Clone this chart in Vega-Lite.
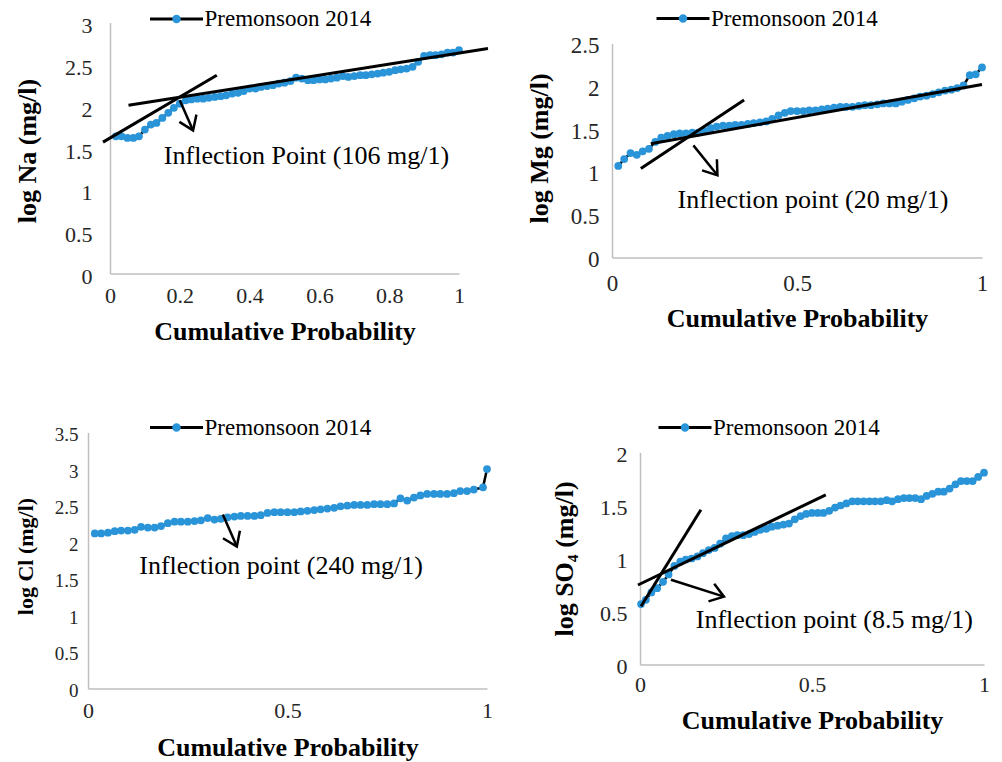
{
  "$schema": "https://vega.github.io/schema/vega-lite/v6.json",
  "background": "white",
  "padding": {"left": 14, "top": 6.5, "right": 5, "bottom": 0},
  "config": {
    "view": {"stroke": null},
    "font": "Liberation Serif",
    "axis": {"domainColor": "#bfbfbf", "domainWidth": 1.5, "ticks": false, "tickSize": 0, "grid": false, "labelFont": "Liberation Serif", "labelColor": "#262626", "labelFlush": false, "labelOverlap": false, "titleFont": "Liberation Serif", "titleFontWeight": "bold", "titleColor": "#000000", "titleFontSize": 26, "format": "~g"},
    "legend": {"labelFont": "Liberation Serif", "labelColor": "#000000", "labelFontSize": 23, "padding": 0, "labelOffset": 0, "labelLimit": 0, "clipHeight": 23}
  },
  "datasets": {
    "na": [{"p":0.017,"v":1.64},{"p":0.033,"v":1.64},{"p":0.05,"v":1.62},{"p":0.067,"v":1.62},{"p":0.083,"v":1.64},{"p":0.1,"v":1.72},{"p":0.117,"v":1.78},{"p":0.133,"v":1.80},{"p":0.15,"v":1.86},{"p":0.167,"v":1.92},{"p":0.183,"v":1.98},{"p":0.2,"v":2.03},{"p":0.217,"v":2.07},{"p":0.233,"v":2.08},{"p":0.25,"v":2.09},{"p":0.267,"v":2.09},{"p":0.283,"v":2.10},{"p":0.3,"v":2.11},{"p":0.317,"v":2.12},{"p":0.333,"v":2.13},{"p":0.35,"v":2.15},{"p":0.367,"v":2.16},{"p":0.383,"v":2.18},{"p":0.4,"v":2.21},{"p":0.417,"v":2.21},{"p":0.433,"v":2.23},{"p":0.45,"v":2.24},{"p":0.467,"v":2.25},{"p":0.483,"v":2.27},{"p":0.5,"v":2.28},{"p":0.517,"v":2.30},{"p":0.533,"v":2.34},{"p":0.55,"v":2.33},{"p":0.567,"v":2.31},{"p":0.583,"v":2.31},{"p":0.6,"v":2.32},{"p":0.617,"v":2.32},{"p":0.633,"v":2.33},{"p":0.65,"v":2.34},{"p":0.667,"v":2.36},{"p":0.683,"v":2.35},{"p":0.7,"v":2.36},{"p":0.717,"v":2.37},{"p":0.733,"v":2.37},{"p":0.75,"v":2.38},{"p":0.767,"v":2.39},{"p":0.783,"v":2.40},{"p":0.8,"v":2.41},{"p":0.817,"v":2.43},{"p":0.833,"v":2.44},{"p":0.85,"v":2.45},{"p":0.867,"v":2.47},{"p":0.883,"v":2.53},{"p":0.9,"v":2.60},{"p":0.917,"v":2.61},{"p":0.933,"v":2.61},{"p":0.95,"v":2.62},{"p":0.967,"v":2.64},{"p":0.983,"v":2.64},{"p":1,"v":2.67}],
    "na_fit": [{"seg":"A","p":-0.02,"v":1.57},{"seg":"A","p":0.306,"v":2.37},{"seg":"B","p":0.053,"v":2.01},{"seg":"B","p":1.083,"v":2.69}],
    "na_arrow": [{"p":0.2,"v":2.07,"tip":false},{"p":0.238,"v":1.71,"tip":true}],
    "na_note": [{"p":0.563,"v":1.40,"label":"Inflection Point (106 mg/1)"}],
    "mg": [{"p":0.017,"v":1.07},{"p":0.033,"v":1.15},{"p":0.05,"v":1.22},{"p":0.067,"v":1.20},{"p":0.083,"v":1.24},{"p":0.1,"v":1.27},{"p":0.117,"v":1.35},{"p":0.133,"v":1.40},{"p":0.15,"v":1.42},{"p":0.167,"v":1.44},{"p":0.183,"v":1.45},{"p":0.2,"v":1.45},{"p":0.217,"v":1.46},{"p":0.233,"v":1.46},{"p":0.25,"v":1.48},{"p":0.267,"v":1.51},{"p":0.283,"v":1.53},{"p":0.3,"v":1.54},{"p":0.317,"v":1.54},{"p":0.333,"v":1.55},{"p":0.35,"v":1.55},{"p":0.367,"v":1.56},{"p":0.383,"v":1.57},{"p":0.4,"v":1.58},{"p":0.417,"v":1.59},{"p":0.433,"v":1.62},{"p":0.45,"v":1.66},{"p":0.467,"v":1.69},{"p":0.483,"v":1.71},{"p":0.5,"v":1.71},{"p":0.517,"v":1.71},{"p":0.533,"v":1.72},{"p":0.55,"v":1.72},{"p":0.567,"v":1.73},{"p":0.583,"v":1.74},{"p":0.6,"v":1.75},{"p":0.617,"v":1.76},{"p":0.633,"v":1.76},{"p":0.65,"v":1.76},{"p":0.667,"v":1.77},{"p":0.683,"v":1.78},{"p":0.7,"v":1.78},{"p":0.717,"v":1.79},{"p":0.733,"v":1.80},{"p":0.75,"v":1.80},{"p":0.767,"v":1.80},{"p":0.783,"v":1.82},{"p":0.8,"v":1.84},{"p":0.817,"v":1.86},{"p":0.833,"v":1.88},{"p":0.85,"v":1.89},{"p":0.867,"v":1.91},{"p":0.883,"v":1.93},{"p":0.9,"v":1.95},{"p":0.917,"v":1.96},{"p":0.933,"v":1.98},{"p":0.95,"v":2.01},{"p":0.967,"v":2.13},{"p":0.983,"v":2.14},{"p":1,"v":2.22}],
    "mg_fit": [{"seg":"A","p":0.078,"v":1.04},{"seg":"A","p":0.357,"v":1.84},{"seg":"B","p":0.105,"v":1.33},{"seg":"B","p":1.0,"v":2.02}],
    "mg_arrow": [{"p":0.22,"v":1.31,"tip":false},{"p":0.285,"v":0.96,"tip":true}],
    "mg_note": [{"p":0.543,"v":0.67,"label":"Inflection point (20 mg/1)"}],
    "cl": [{"p":0.017,"v":2.12},{"p":0.033,"v":2.12},{"p":0.05,"v":2.13},{"p":0.067,"v":2.15},{"p":0.083,"v":2.16},{"p":0.1,"v":2.16},{"p":0.117,"v":2.17},{"p":0.133,"v":2.21},{"p":0.15,"v":2.20},{"p":0.167,"v":2.20},{"p":0.183,"v":2.22},{"p":0.2,"v":2.26},{"p":0.217,"v":2.28},{"p":0.233,"v":2.28},{"p":0.25,"v":2.28},{"p":0.267,"v":2.29},{"p":0.283,"v":2.30},{"p":0.3,"v":2.33},{"p":0.317,"v":2.31},{"p":0.333,"v":2.32},{"p":0.35,"v":2.34},{"p":0.367,"v":2.35},{"p":0.383,"v":2.36},{"p":0.4,"v":2.36},{"p":0.417,"v":2.36},{"p":0.433,"v":2.37},{"p":0.45,"v":2.40},{"p":0.467,"v":2.41},{"p":0.483,"v":2.41},{"p":0.5,"v":2.41},{"p":0.517,"v":2.41},{"p":0.533,"v":2.42},{"p":0.55,"v":2.43},{"p":0.567,"v":2.44},{"p":0.583,"v":2.45},{"p":0.6,"v":2.46},{"p":0.617,"v":2.47},{"p":0.633,"v":2.49},{"p":0.65,"v":2.50},{"p":0.667,"v":2.51},{"p":0.683,"v":2.51},{"p":0.7,"v":2.51},{"p":0.717,"v":2.52},{"p":0.733,"v":2.52},{"p":0.75,"v":2.52},{"p":0.767,"v":2.53},{"p":0.783,"v":2.60},{"p":0.8,"v":2.57},{"p":0.817,"v":2.61},{"p":0.833,"v":2.64},{"p":0.85,"v":2.66},{"p":0.867,"v":2.66},{"p":0.883,"v":2.66},{"p":0.9,"v":2.66},{"p":0.917,"v":2.67},{"p":0.933,"v":2.70},{"p":0.95,"v":2.70},{"p":0.967,"v":2.72},{"p":0.99,"v":2.75},{"p":1,"v":3.00}],
    "cl_arrow": [{"p":0.338,"v":2.38,"tip":false},{"p":0.373,"v":1.94,"tip":true}],
    "cl_note": [{"p":0.484,"v":1.67,"label":"Inflection point (240 mg/1)"}],
    "so4": [{"p":0.003,"v":0.57},{"p":0.017,"v":0.61},{"p":0.033,"v":0.68},{"p":0.05,"v":0.72},{"p":0.067,"v":0.78},{"p":0.083,"v":0.85},{"p":0.1,"v":0.93},{"p":0.117,"v":0.97},{"p":0.133,"v":0.99},{"p":0.15,"v":1.00},{"p":0.167,"v":1.02},{"p":0.183,"v":1.05},{"p":0.2,"v":1.08},{"p":0.217,"v":1.10},{"p":0.233,"v":1.14},{"p":0.25,"v":1.19},{"p":0.267,"v":1.21},{"p":0.283,"v":1.22},{"p":0.3,"v":1.22},{"p":0.317,"v":1.23},{"p":0.333,"v":1.25},{"p":0.35,"v":1.27},{"p":0.367,"v":1.28},{"p":0.383,"v":1.30},{"p":0.4,"v":1.31},{"p":0.417,"v":1.32},{"p":0.433,"v":1.33},{"p":0.45,"v":1.37},{"p":0.467,"v":1.40},{"p":0.483,"v":1.42},{"p":0.5,"v":1.43},{"p":0.517,"v":1.43},{"p":0.533,"v":1.43},{"p":0.55,"v":1.45},{"p":0.567,"v":1.48},{"p":0.583,"v":1.50},{"p":0.6,"v":1.52},{"p":0.617,"v":1.54},{"p":0.633,"v":1.54},{"p":0.65,"v":1.54},{"p":0.667,"v":1.54},{"p":0.683,"v":1.54},{"p":0.7,"v":1.54},{"p":0.717,"v":1.55},{"p":0.733,"v":1.54},{"p":0.75,"v":1.56},{"p":0.767,"v":1.57},{"p":0.783,"v":1.57},{"p":0.8,"v":1.57},{"p":0.817,"v":1.56},{"p":0.833,"v":1.59},{"p":0.85,"v":1.61},{"p":0.867,"v":1.63},{"p":0.883,"v":1.63},{"p":0.9,"v":1.66},{"p":0.917,"v":1.70},{"p":0.933,"v":1.73},{"p":0.95,"v":1.73},{"p":0.967,"v":1.73},{"p":0.983,"v":1.77},{"p":1,"v":1.81}],
    "so4_fit": [{"seg":"A","p":0.003,"v":0.55},{"seg":"A","p":0.177,"v":1.46},{"seg":"B","p":-0.006,"v":0.75},{"seg":"B","p":0.54,"v":1.60}],
    "so4_arrow": [{"p":0.09,"v":0.80,"tip":false},{"p":0.244,"v":0.64,"tip":true}],
    "so4_note": [{"p":0.565,"v":0.42,"label":"Inflection point (8.5 mg/1)"}]
  },
  "resolve": {"scale": {"stroke": "independent", "fill": "independent"}, "legend": {"stroke": "independent", "fill": "independent"}},
  "spacing": 71,
  "vconcat": [
    {
      "columns": 2, "align": "none", "spacing": 32,
      "resolve": {"scale": {"stroke": "independent", "fill": "independent"}, "legend": {"stroke": "independent", "fill": "independent"}},
      "concat": [
        {
          "width": 371, "height": 251,
          "encoding": {
            "x": {"field": "p", "type": "quantitative", "title": "Cumulative Probability", "scale": {"domain": [0, 1], "nice": false, "zero": false, "range": [22, 371]},
              "axis": {"values": [0, 0.2, 0.4, 0.6, 0.8, 1], "labelFontSize": 22, "labelPadding": 22, "labelBaseline": "middle", "titleX": 196.5, "titleY": 58, "titleBaseline": "middle"}},
            "y": {"field": "v", "type": "quantitative", "title": "log Na (mg/l)", "scale": {"domain": [0, 3], "nice": false},
              "axis": {"offset": -22, "values": [0, 0.5, 1, 1.5, 2, 2.5, 3], "labelFontSize": 22, "labelPadding": 18, "labelOffset": 3, "titleX": -83, "titleY": 128, "titleAngle": 270, "titleAlign": "center", "titleBaseline": "middle"}}
          },
          "layer": [
            {"data": {"name": "na"}, "mark": {"type": "line", "strokeWidth": 2.5},
              "encoding": {"stroke": {"datum": "Premonsoon 2014", "type": "nominal", "scale": {"range": ["#000000"]},
                "legend": {"orient": "none", "legendX": 60.5, "legendY": -15, "title": null, "symbolType": "stroke", "symbolSize": 2809, "symbolStrokeWidth": 3}}}},
            {"data": {"name": "na"}, "mark": {"type": "point", "filled": true, "size": 60, "opacity": 1, "strokeWidth": 0},
              "encoding": {"fill": {"datum": "dot", "type": "nominal", "scale": {"range": ["#2a94d8"]},
                "legend": {"orient": "none", "legendX": 60.5, "legendY": -15, "title": null, "symbolType": "M-0.16,0A0.16,0.16 0 1,0 0.16,0A0.16,0.16 0 1,0 -0.16,0Z", "symbolSize": 2809, "symbolStrokeWidth": 3, "symbolStrokeColor": "transparent", "labelExpr": "''"}}}},
            {"data": {"name": "na_fit"}, "mark": {"type": "line", "color": "#000000", "strokeWidth": 3}, "encoding": {"detail": {"field": "seg"}}},
            {"data": {"name": "na_arrow"}, "mark": {"type": "line", "color": "#000000", "strokeWidth": 2.5}, "encoding": {}},
            {"data": {"name": "na_arrow"}, "transform": [{"filter": "datum.tip"}], "mark": {"type": "point", "shape": "M-0.7,-1L0,0L0.7,-1", "size": 700, "angle": -23, "filled": false, "stroke": "#000000", "strokeWidth": 2.5, "opacity": 1}},
            {"data": {"name": "na_note"}, "mark": {"type": "text", "font": "Liberation Serif", "fontSize": 26, "color": "#000000"}, "encoding": {"text": {"field": "label"}}}
          ]
        },
        {
          "width": 370, "height": 235,
          "encoding": {
            "x": {"field": "p", "type": "quantitative", "title": "Cumulative Probability", "scale": {"domain": [0, 1], "nice": false, "zero": false},
              "axis": {"values": [0, 0.5, 1], "labelFontSize": 23, "labelPadding": 26, "labelBaseline": "middle", "titleY": 61, "titleBaseline": "middle"}},
            "y": {"field": "v", "type": "quantitative", "title": "log Mg (mg/l)", "scale": {"domain": [0, 2.5], "nice": false, "range": [235, 21]},
              "axis": {"values": [0, 0.5, 1, 1.5, 2, 2.5], "labelFontSize": 23, "labelPadding": 13, "labelOffset": 2, "titleX": -73, "titleY": 125.5, "titleAngle": 270, "titleAlign": "center", "titleBaseline": "middle"}}
          },
          "layer": [
            {"data": {"name": "mg"}, "mark": {"type": "line", "strokeWidth": 2.5},
              "encoding": {"stroke": {"datum": "Premonsoon 2014", "type": "nominal", "scale": {"range": ["#000000"]},
                "legend": {"orient": "none", "legendX": 43, "legendY": -15.5, "title": null, "symbolType": "stroke", "symbolSize": 2809, "symbolStrokeWidth": 3}}}},
            {"data": {"name": "mg"}, "mark": {"type": "point", "filled": true, "size": 60, "opacity": 1, "strokeWidth": 0},
              "encoding": {"fill": {"datum": "dot", "type": "nominal", "scale": {"range": ["#2a94d8"]},
                "legend": {"orient": "none", "legendX": 43, "legendY": -15.5, "title": null, "symbolType": "M-0.16,0A0.16,0.16 0 1,0 0.16,0A0.16,0.16 0 1,0 -0.16,0Z", "symbolSize": 2809, "symbolStrokeWidth": 3, "symbolStrokeColor": "transparent", "labelExpr": "''"}}}},
            {"data": {"name": "mg_fit"}, "mark": {"type": "line", "color": "#000000", "strokeWidth": 3}, "encoding": {"detail": {"field": "seg"}}},
            {"data": {"name": "mg_arrow"}, "mark": {"type": "line", "color": "#000000", "strokeWidth": 2.5}, "encoding": {}},
            {"data": {"name": "mg_arrow"}, "transform": [{"filter": "datum.tip"}], "mark": {"type": "point", "shape": "M-0.7,-1L0,0L0.7,-1", "size": 700, "angle": -37, "filled": false, "stroke": "#000000", "strokeWidth": 2.5, "opacity": 1}},
            {"data": {"name": "mg_note"}, "mark": {"type": "text", "font": "Liberation Serif", "fontSize": 26, "color": "#000000"}, "encoding": {"text": {"field": "label"}}}
          ]
        }
      ]
    },
    {
      "columns": 2, "align": "none", "spacing": 58,
      "resolve": {"scale": {"stroke": "independent", "fill": "independent"}, "legend": {"stroke": "independent", "fill": "independent"}},
      "concat": [
        {
          "width": 399, "height": 256,
          "encoding": {
            "x": {"field": "p", "type": "quantitative", "title": "Cumulative Probability", "scale": {"domain": [0, 1], "nice": false, "zero": false},
              "axis": {"values": [0, 0.5, 1], "labelFontSize": 22, "labelPadding": 22, "labelBaseline": "middle", "titleY": 59, "titleBaseline": "middle"}},
            "y": {"field": "v", "type": "quantitative", "title": "log  Cl (mg/l)", "scale": {"domain": [0, 3.5], "nice": false},
              "axis": {"values": [0, 0.5, 1, 1.5, 2, 2.5, 3, 3.5], "labelFontSize": 19, "labelPadding": 10, "labelOffset": 2, "titleFontSize": 22, "titleX": -63, "titleY": 123.5, "titleAngle": 270, "titleAlign": "center", "titleBaseline": "middle"}}
          },
          "layer": [
            {"data": {"name": "cl"}, "mark": {"type": "line", "strokeWidth": 2.5},
              "encoding": {"stroke": {"datum": "Premonsoon 2014", "type": "nominal", "scale": {"range": ["#000000"]},
                "legend": {"orient": "none", "legendX": 60.5, "legendY": -16.5, "title": null, "symbolType": "stroke", "symbolSize": 2809, "symbolStrokeWidth": 3}}}},
            {"data": {"name": "cl"}, "mark": {"type": "point", "filled": true, "size": 60, "opacity": 1, "strokeWidth": 0},
              "encoding": {"fill": {"datum": "dot", "type": "nominal", "scale": {"range": ["#2a94d8"]},
                "legend": {"orient": "none", "legendX": 60.5, "legendY": -16.5, "title": null, "symbolType": "M-0.16,0A0.16,0.16 0 1,0 0.16,0A0.16,0.16 0 1,0 -0.16,0Z", "symbolSize": 2809, "symbolStrokeWidth": 3, "symbolStrokeColor": "transparent", "labelExpr": "''"}}}},
            {"data": {"name": "cl_arrow"}, "mark": {"type": "line", "color": "#000000", "strokeWidth": 2.5}, "encoding": {}},
            {"data": {"name": "cl_arrow"}, "transform": [{"filter": "datum.tip"}], "mark": {"type": "point", "shape": "M-0.7,-1L0,0L0.7,-1", "size": 700, "angle": -24, "filled": false, "stroke": "#000000", "strokeWidth": 2.5, "opacity": 1}},
            {"data": {"name": "cl_note"}, "mark": {"type": "text", "font": "Liberation Serif", "fontSize": 26, "color": "#000000"}, "encoding": {"text": {"field": "label"}}}
          ]
        },
        {
          "width": 344, "height": 232,
          "encoding": {
            "x": {"field": "p", "type": "quantitative", "title": "Cumulative Probability", "scale": {"domain": [0, 1], "nice": false, "zero": false},
              "axis": {"values": [0, 0.5, 1], "labelFontSize": 22, "labelPadding": 20, "labelBaseline": "middle", "titleY": 56, "titleBaseline": "middle"}},
            "y": {"field": "v", "type": "quantitative", "title": "log  SO₄ (mg/l)", "scale": {"domain": [0, 2], "nice": false, "range": [232, 20]},
              "axis": {"values": [0, 0.5, 1, 1.5, 2], "labelFontSize": 22, "labelPadding": 13, "labelOffset": 2, "titleX": -76, "titleY": 126, "titleAngle": 270, "titleAlign": "center", "titleBaseline": "middle"}}
          },
          "layer": [
            {"data": {"name": "so4"}, "mark": {"type": "line", "strokeWidth": 2.5},
              "encoding": {"stroke": {"datum": "Premonsoon 2014", "type": "nominal", "scale": {"range": ["#000000"]},
                "legend": {"orient": "none", "legendX": 17, "legendY": -16.5, "title": null, "symbolType": "stroke", "symbolSize": 2809, "symbolStrokeWidth": 3}}}},
            {"data": {"name": "so4"}, "mark": {"type": "point", "filled": true, "size": 60, "opacity": 1, "strokeWidth": 0},
              "encoding": {"fill": {"datum": "dot", "type": "nominal", "scale": {"range": ["#2a94d8"]},
                "legend": {"orient": "none", "legendX": 17, "legendY": -16.5, "title": null, "symbolType": "M-0.16,0A0.16,0.16 0 1,0 0.16,0A0.16,0.16 0 1,0 -0.16,0Z", "symbolSize": 2809, "symbolStrokeWidth": 3, "symbolStrokeColor": "transparent", "labelExpr": "''"}}}},
            {"data": {"name": "so4_fit"}, "mark": {"type": "line", "color": "#000000", "strokeWidth": 3}, "encoding": {"detail": {"field": "seg"}}},
            {"data": {"name": "so4_arrow"}, "mark": {"type": "line", "color": "#000000", "strokeWidth": 2.5}, "encoding": {}},
            {"data": {"name": "so4_arrow"}, "transform": [{"filter": "datum.tip"}], "mark": {"type": "point", "shape": "M-0.7,-1L0,0L0.7,-1", "size": 700, "angle": -72, "filled": false, "stroke": "#000000", "strokeWidth": 2.5, "opacity": 1}},
            {"data": {"name": "so4_note"}, "mark": {"type": "text", "font": "Liberation Serif", "fontSize": 26, "color": "#000000"}, "encoding": {"text": {"field": "label"}}}
          ]
        }
      ]
    }
  ]
}
